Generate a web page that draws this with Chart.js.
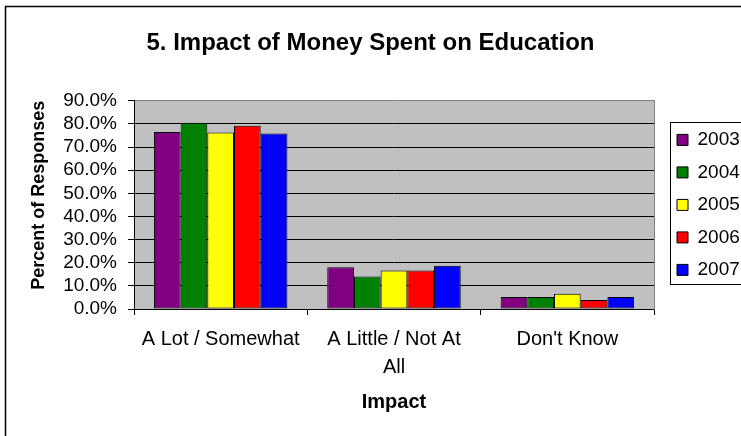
<!DOCTYPE html>
<html>
<head>
<meta charset="utf-8">
<title>5. Impact of Money Spent on Education</title>
<script src="https://cdn.jsdelivr.net/npm/chart.js@4.4.1/dist/chart.umd.min.js"></script>
<style>
  html, body { margin: 0; padding: 0; background: #fff; }
  #wrap { width: 741px; height: 436px; overflow: hidden; }
</style>
</head>
<body>
<div id="wrap"><canvas id="chart" width="741" height="436"></canvas></div>
<script>
// survey answers, percent of responses per year
const categories = ['A Lot / Somewhat', ['A Little / Not At', 'All'], "Don't Know"];
const years = ['2003', '2004', '2005', '2006', '2007'];
const pct2003 = [76.5, 18.0, 5.2];
const pct2004 = [80.5, 14.0, 5.2];
const pct2005 = [76.3, 16.6, 6.6];
const pct2006 = [79.2, 16.6, 3.9];
const pct2007 = [75.9, 18.7, 5.2];
const yTicks = [0, 10, 20, 30, 40, 50, 60, 70, 80, 90];

const colors = ['#800080', '#008000', '#FFFF00', '#FF0000', '#0000FF'];
const series = [pct2003, pct2004, pct2005, pct2006, pct2007];
const FONT = "'Liberation Sans', Arial, sans-serif";

let datasets = years.map((y, i) => ({
    label: y,
    data: series[i],
    backgroundColor: colors[i],
    borderColor: '#000',
    borderWidth: 1,
    borderSkipped: false
}));

// grey plot area, white page, outer frame and legend frame
const frames = {
    id: 'frames',
    beforeDraw(chart) {
        const ctx = chart.ctx;
        const a = chart.chartArea;
        ctx.save();
        ctx.fillStyle = '#fff';
        ctx.fillRect(0, 0, chart.width, chart.height);
        ctx.fillStyle = '#C0C0C0';
        ctx.fillRect(a.left, a.top, a.right - a.left, a.bottom - a.top);
        ctx.restore();
    },
    afterDraw(chart) {
        const ctx = chart.ctx;
        ctx.save();
        ctx.strokeStyle = '#000';
        ctx.lineWidth = 1.5;
        ctx.strokeRect(5.5, 6.5, chart.width + 10, chart.height + 10);

        const boxes = chart.legend.legendHitBoxes;
        if (boxes && boxes.length) {
            const first = boxes[0], last = boxes[boxes.length - 1];
            ctx.lineWidth = 1;
            ctx.strokeRect(Math.round(first.left) - 6.5, Math.round(first.top) - 7.5,
                chart.width, Math.round(last.top + last.height - first.top) + 13);
        }
        ctx.restore();
    }
};

let chart = new Chart(document.getElementById('chart'), {
    type: 'bar',
    data: {
        labels: categories,
        datasets: datasets
    },
    plugins: [frames],
    options: {
        responsive: false,
        animation: false,
        layout: { padding: 0 },
        datasets: {
            bar: { categoryPercentage: 0.77, barPercentage: 1.0 }
        },
        plugins: {
            title: {
                display: true,
                text: '5. Impact of Money Spent on Education',
                color: '#000',
                font: { family: FONT, size: 24, weight: 'bold' },
                padding: { top: 29, bottom: 43 }
            },
            legend: {
                position: 'right',
                fullSize: false,
                maxWidth: 77.5,
                labels: {
                    color: '#000',
                    font: { family: FONT, size: 19 },
                    boxWidth: 11,
                    boxHeight: 11,
                    padding: 13.5
                }
            },
            tooltip: { enabled: false }
        },
        scales: {
            x: {
                grid: {
                    offset: true,
                    drawOnChartArea: false,
                    color: '#000',
                    tickLength: 6
                },
                border: { color: '#000', width: 1 },
                ticks: {
                    color: '#000',
                    font: { family: FONT, size: 20, lineHeight: 1.4 },
                    padding: 10,
                    maxRotation: 0,
                    autoSkip: false
                },
                title: {
                    display: true,
                    text: 'Impact',
                    color: '#000',
                    font: { family: FONT, size: 20, weight: 'bold' },
                    padding: { top: 0, bottom: 22 }
                },
                afterFit(scale) { scale.height = 127; }
            },
            y: {
                min: 0,
                max: 90,
                afterBuildTicks(scale) { scale.ticks = yTicks.map(v => ({ value: v })); },
                grid: {
                    color: c => (c.tick && c.tick.value === 90) ? '#808080' : '#000',
                    tickColor: '#000',
                    tickLength: 6
                },
                border: { color: '#000', width: 1 },
                ticks: {
                    color: '#000',
                    font: { family: FONT, size: 19 },
                    padding: 11,
                    autoSkip: false,
                    callback: v => v.toFixed(1) + '%'
                },
                title: {
                    display: true,
                    text: 'Percent of Responses',
                    align: 'end',
                    color: '#000',
                    font: { family: FONT, size: 18, weight: 'bold' },
                    padding: { top: 28, bottom: 0 }
                },
                afterFit(scale) { scale.width = 134; }
            },
            // empty right axis: gap before the legend and grey plot border
            frameRight: {
                type: 'linear',
                position: 'right',
                ticks: { display: false },
                grid: { drawOnChartArea: false, drawTicks: false },
                border: { color: '#808080', width: 1 },
                afterFit(scale) { scale.width = 9.5; }
            }
        }
    }
});
</script>
</body>
</html>
